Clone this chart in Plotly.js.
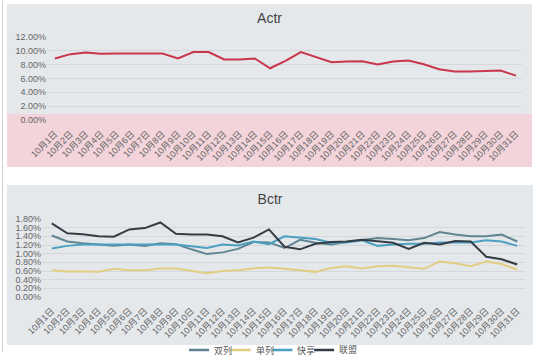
<!DOCTYPE html>
<html>
<head>
<meta charset="utf-8">
<script src="https://cdn.plot.ly/plotly-3.0.1.min.js"></script>
<style>
  html, body { margin:0; padding:0; width:540px; height:356px; background:#ffffff; overflow:hidden; }
  .abs { position:absolute; }
</style>
</head>
<body>
<div class="abs" style="left:2px;top:0;width:1px;height:352px;background:#cfd2d5;"></div>
<div class="abs" style="left:7px;top:4px;width:525px;height:163px;background:#e5e8eb;"></div>
<div class="abs" style="left:7px;top:185px;width:526px;height:160px;background:#e5e8eb;"></div>
<div id="top" class="abs" style="left:7px;top:4px;width:525px;height:163px;"></div>
<div id="bot" class="abs" style="left:7px;top:185px;width:526px;height:171px;"></div>
<script>
// ---- data ----
var days = ["10月1日","10月2日","10月3日","10月4日","10月5日","10月6日","10月7日","10月8日","10月9日","10月10日",
            "10月11日","10月12日","10月13日","10月14日","10月15日","10月16日","10月17日","10月18日","10月19日","10月20日",
            "10月21日","10月22日","10月23日","10月24日","10月25日","10月26日","10月27日","10月28日","10月29日","10月30日","10月31日"];

var actr = [0.0890,0.0952,0.0977,0.0957,0.0962,0.0962,0.0972,0.0962,0.0889,0.0982,
            0.0982,0.0875,0.0875,0.0890,0.0748,0.0855,0.0982,0.0904,0.0836,0.0845,
            0.0850,0.0802,0.0845,0.0860,0.0807,0.0734,0.0700,0.0700,0.0705,0.0714,0.0641];

var seriesNames = ["双列","单列","快享","联盟"];

var shuanglie = [0.0142,0.0128,0.0124,0.0121,0.0118,0.0121,0.0118,0.0124,0.0122,0.0110,
                 0.0099,0.0103,0.0111,0.0127,0.0126,0.0113,0.0132,0.0125,0.0121,0.0127,
                 0.0132,0.0136,0.0134,0.0131,0.0136,0.0150,0.0144,0.0140,0.0140,0.0144,0.0128];

var danlie = [0.0062,0.0059,0.0059,0.0058,0.0065,0.0062,0.0062,0.0066,0.0066,0.0061,
              0.0055,0.0060,0.0062,0.0066,0.0068,0.0065,0.0061,0.0058,0.0067,0.0071,
              0.0066,0.0071,0.0072,0.0068,0.0065,0.0082,0.0078,0.0071,0.0082,0.0076,0.0063];

var kuaixiang = [0.0112,0.0118,0.0121,0.0121,0.0121,0.0122,0.0121,0.0121,0.0121,0.0117,
                 0.0113,0.0121,0.0119,0.0128,0.0122,0.0140,0.0137,0.0134,0.0125,0.0126,
                 0.0131,0.0118,0.0121,0.0123,0.0123,0.0126,0.0126,0.0126,0.0131,0.0128,0.0118];

var lianmeng = [0.0170,0.0147,0.0145,0.0140,0.0139,0.0156,0.0159,0.0172,0.0146,0.0144,
                0.0144,0.0140,0.0126,0.0137,0.0156,0.0116,0.0110,0.0123,0.0127,0.0128,
                0.0132,0.0129,0.0125,0.0111,0.0125,0.0121,0.0129,0.0128,0.0093,0.0087,0.0075];

var bSeries = [shuanglie, danlie, kuaixiang, lianmeng];
var bColors = ["#5f8592","#e3cd83","#4b9fc0","#343d46"];

var FONT = "Liberation Sans, Arial, 'Noto Sans CJK SC', sans-serif";
var cfg = {displayModeBar:false, staticPlot:true};

// ---- top chart ----
Plotly.newPlot("top", [{
  x: days, y: actr, type:"scatter", mode:"lines",
  line:{color:"#c9364c", width:2}, showlegend:false
}], {
  width:525, height:163,
  margin:{l:40, r:10, t:33, b:47},
  paper_bgcolor:"rgba(0,0,0,0)", plot_bgcolor:"rgba(0,0,0,0)",
  font:{family:FONT, size:9, color:"#666"},
  title:{text:"Actr", x:0.5, xref:"container", y:0.914, yanchor:"middle", font:{size:14, color:"#444", family:FONT}},
  xaxis:{type:"category", range:[-0.52,30.39], tickangle:-45, showgrid:false, zeroline:false,
         showline:false, ticks:"", ticklabelstandoff:6, tickfont:{size:9, color:"#666"}, fixedrange:true},
  yaxis:{range:[0,0.12], dtick:0.02, tickformat:".2%", gridcolor:"#d4d8dc", gridwidth:1,
         zeroline:false, showline:false, ticks:"", tickfont:{size:9, color:"#666"}, fixedrange:true},
  shapes:[{type:"rect", xref:"paper", yref:"paper", layer:"below",
           x0:-40/475, x1:1+10/475, y0:-47/83, y1:6/83,
           fillcolor:"#f3d4da", line:{width:0}}]
}, cfg);

// ---- bottom chart ----
var traces = bSeries.map(function(s, i){
  return {x: days, y: s, type:"scatter", mode:"lines", name: seriesNames[i],
          line:{color:bColors[i], width:2}, showlegend:false};
});

var plotLeft = 42, plotW = 483, plotBottom = 297, plotH = 78;
function px2x(p){ return (p - plotLeft)/plotW; }
var legY = -(350 - plotBottom)/plotH;
var shapes = [], annos = [];
seriesNames.forEach(function(n, i){
  var x0 = 189 + 41.7*i;
  shapes.push({type:"line", xref:"paper", yref:"paper", x0:px2x(x0), x1:px2x(x0+20), y0:legY, y1:legY,
               line:{color:bColors[i], width:2.5}});
  annos.push({xref:"paper", yref:"paper", x:px2x(x0+23), y:legY, xanchor:"left", yanchor:"middle",
              text:n, showarrow:false, font:{size:9, color:"#555", family:FONT}});
});

Plotly.newPlot("bot", traces, {
  width:526, height:171,
  margin:{l:35, r:8, t:34, b:59},
  paper_bgcolor:"rgba(0,0,0,0)", plot_bgcolor:"rgba(0,0,0,0)",
  font:{family:FONT, size:9, color:"#666"},
  title:{text:"Bctr", x:0.5, xref:"container", y:0.918, yanchor:"middle", font:{size:14, color:"#444", family:FONT}},
  xaxis:{type:"category", range:[-0.63,30.5], tickangle:-45, showgrid:false, zeroline:false,
         showline:false, ticks:"", ticklabelstandoff:6, tickfont:{size:9, color:"#666"}, fixedrange:true},
  yaxis:{range:[0,0.018], dtick:0.002, tickformat:".2%", gridcolor:"#d4d8dc", gridwidth:1,
         zeroline:false, showline:false, ticks:"", tickfont:{size:9, color:"#666"}, fixedrange:true},
  shapes: shapes, annotations: annos, showlegend:false
}, cfg);
</script>
</body>
</html>
